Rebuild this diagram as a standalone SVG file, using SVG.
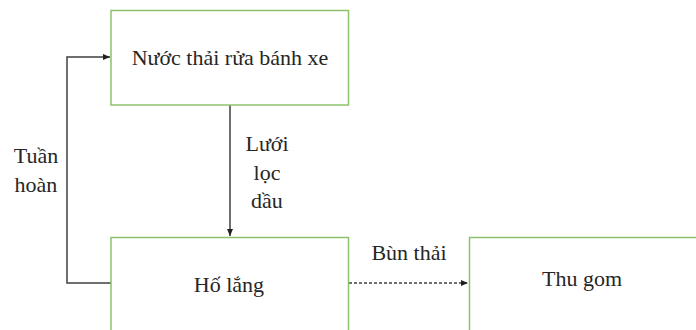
<svg xmlns="http://www.w3.org/2000/svg" width="696" height="330" viewBox="0 0 696 330">
<style>
.box{fill:#fff;stroke:#8cc26c;stroke-width:1.5}
.t{font-family:'Liberation Serif','DejaVu Serif',serif;font-size:22px;fill:#262626;text-anchor:middle}
.c{fill:none;stroke:#404040;stroke-width:1.5}
</style>
<defs>
<marker id="ah" markerWidth="8" markerHeight="8" refX="7" refY="4" orient="auto" markerUnits="userSpaceOnUse">
<path d="M0,1 L7,4 L0,7 Z" fill="#202020"/>
</marker>
</defs>
<rect width="696" height="330" fill="#fff"/>
<g id="connectors">
<polyline class="c" points="111,283 67,283 67,57 110,57" marker-end="url(#ah)"/>
<line class="c" x1="230" y1="105" x2="230" y2="236" marker-end="url(#ah)"/>
<line class="c" x1="349" y1="283" x2="468" y2="283" stroke-dasharray="3,2" marker-end="url(#ah)"/>
<text class="t" x="36" y="163">Tuần</text>
<text class="t" x="36" y="192">hoàn</text>
<text class="t" x="267" y="151">Lưới</text>
<text class="t" x="267" y="180">lọc</text>
<text class="t" x="267" y="208">dầu</text>
<text class="t" x="409" y="260">Bùn thải</text>
</g>
<g id="node-nuoc-thai">
<rect class="box" x="111" y="10.5" width="237.5" height="94.5"/>
<text class="t" x="230" y="65">Nước thải rửa bánh xe</text>
</g>
<g id="node-ho-lang">
<rect class="box" x="111" y="237.5" width="237.5" height="100"/>
<text class="t" x="229" y="292">Hố lắng</text>
</g>
<g id="node-thu-gom">
<rect class="box" x="469.5" y="237.5" width="240" height="100"/>
<text class="t" x="582" y="286" font-size="23">Thu gom</text>
</g>
</svg>
